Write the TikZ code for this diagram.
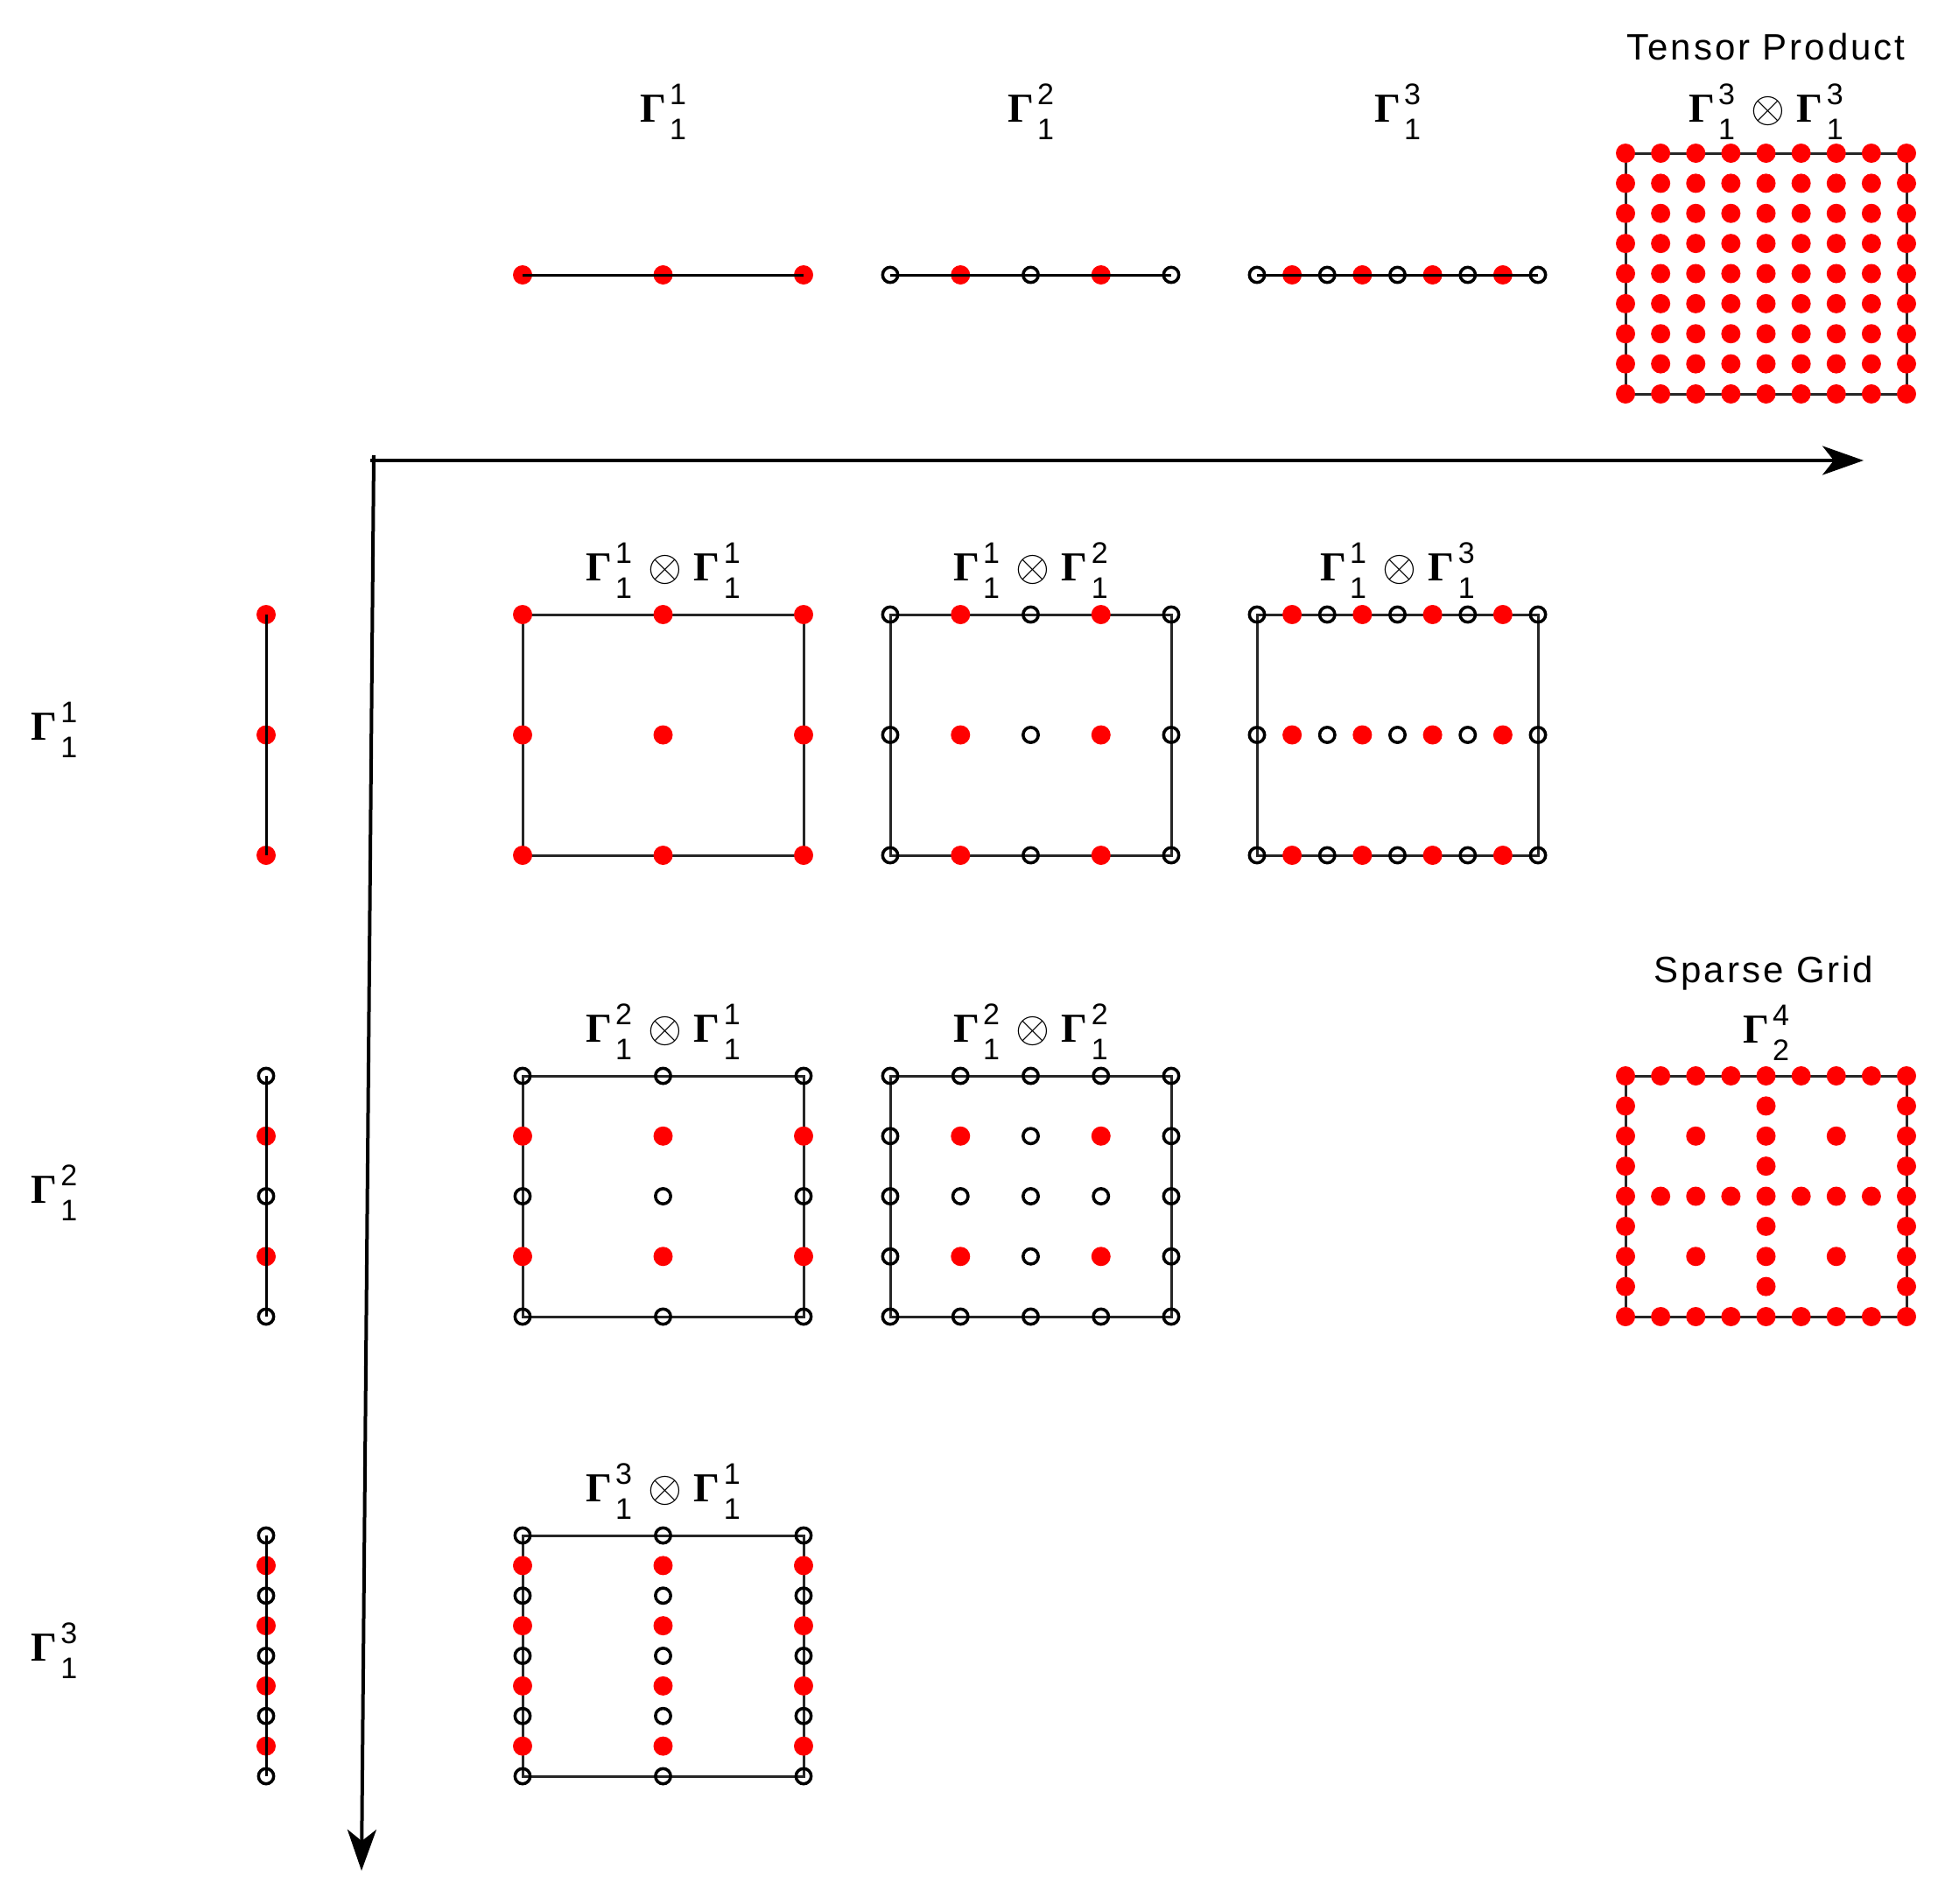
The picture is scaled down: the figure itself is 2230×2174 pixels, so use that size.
\documentclass[tikz,border=0pt]{standalone}
\usepackage{fix-cm}
\usepackage{fontspec}
\setmainfont{Liberation Sans}
\newfontfamily\gamfont{Liberation Serif}
\newfontfamily\widefont{Liberation Sans}[LetterSpace=7]
\usetikzlibrary{arrows.meta}
\newcommand\digs{\fontsize{34}{36}\selectfont}
\newcommand\GG[2]{{\gamfont\bfseries\fontsize{47}{50}\selectfont Γ}\kern4pt\makebox[0pt][l]{\raisebox{20pt}{\digs #2}}\raisebox{-20pt}{\digs #1}}
\newcommand\OT{\kern18pt{\fontsize{50}{56}\selectfont$\otimes$}\kern14pt}
\tikzset{
  boxline/.style={draw=black!85,line width=3pt},
  oneline/.style={draw=black,line width=3pt},
  opendot/.style={draw=black,line width=3.5pt},
  axis/.style={draw=black,line width=4pt,-{Stealth[length=47pt,width=33pt,inset=13pt]}},
  lab/.style={inner sep=0pt,anchor=base},
  title/.style={inner sep=0pt,anchor=base,font=\widefont\fontsize{42}{48}\selectfont}
}
% 2D box with nx, ny points
\newcommand\gridbox[4]{%
  \draw[boxline] (#1,#2) rectangle ++(321,275);
  \foreach \i in {1,...,#3}{\foreach \j in {1,...,#4}{%
    \pgfmathsetmacro\px{#1+321*(\i-1)/(#3-1)}%
    \pgfmathsetmacro\py{#2+275*(\j-1)/(#4-1)}%
    \pgfmathtruncatemacro\isred{and(or(#3==3,mod(\i,2)==0),or(#4==3,mod(\j,2)==0))}%
    \ifnum\isred=1 \fill[red] (\px,\py) circle[radius=11pt];\else\draw[opendot] (\px,\py) circle[radius=8.7pt];\fi
  }}}
% horizontal 1D grid
\newcommand\oneh[3]{%
  \foreach \i in {1,...,#3}{%
    \pgfmathsetmacro\px{#1+321*(\i-1)/(#3-1)}%
    \pgfmathtruncatemacro\isred{or(#3==3,mod(\i,2)==0)}%
    \ifnum\isred=1 \fill[red] (\px,#2) circle[radius=11pt];\else\draw[opendot] (\px,#2) circle[radius=8.7pt];\fi}
  \draw[oneline] (#1,#2) -- ++(321,0);}
% vertical 1D grid
\newcommand\onev[3]{%
  \foreach \j in {1,...,#3}{%
    \pgfmathsetmacro\py{#2+275*(\j-1)/(#3-1)}%
    \pgfmathtruncatemacro\isred{or(#3==3,mod(\j,2)==0)}%
    \ifnum\isred=1 \fill[red] (#1,\py) circle[radius=11pt];\else\draw[opendot] (#1,\py) circle[radius=8.7pt];\fi}
  \draw[oneline] (#1,#2) -- ++(0,275);}
% level-based 9x9 box (#3 = max level sum)
\newcommand\levelbox[3]{%
  \draw[boxline] (#1,#2) rectangle ++(321,275);
  \foreach \i in {1,...,9}{\foreach \j in {1,...,9}{%
    \pgfmathsetmacro\px{#1+321*(\i-1)/8}%
    \pgfmathsetmacro\py{#2+275*(\j-1)/8}%
    \pgfmathtruncatemacro\lx{ifthenelse(mod(\i-1,4)==0,1,ifthenelse(mod(\i-1,2)==0,2,3))}%
    \pgfmathtruncatemacro\ly{ifthenelse(mod(\j-1,4)==0,1,ifthenelse(mod(\j-1,2)==0,2,3))}%
    \pgfmathtruncatemacro\ok{(\lx+\ly)<=#3}%
    \ifnum\ok=1 \fill[red] (\px,\py) circle[radius=11pt];\fi
  }}}
\begin{document}
\begin{tikzpicture}[x=1pt,y=-1pt]
\useasboundingbox (0,0) rectangle (2230,2174);
\fill[white] (0,0) rectangle (2230,2174);
% axes
\coordinate (corner) at (427,520);
\coordinate (hstart) at (423,526);
\coordinate (xend) at (2129,526);
\coordinate (yend) at (413,2137);
\draw[axis] (hstart) -- (xend);
\draw[axis] (corner) -- (yend);
% top 1D grids
\oneh{597}{314}{3}
\oneh{1017}{314}{5}
\oneh{1436}{314}{9}
\node[lab] (top1) at (757.5,139) {\GG{1}{1}};
\node[lab] (top2) at (1177.5,139) {\GG{1}{2}};
\node[lab] (top3) at (1596.5,139) {\GG{1}{3}};
% tensor product
\node[title] (tptitle) at (2017.5,68) {Tensor Product};
\node[lab] (tplab) at (2017.5,139) {\GG{1}{3}\OT\GG{1}{3}};
\levelbox{1857}{175}{6}
% left 1D grids
\onev{304}{702}{3}
\onev{304}{1229}{5}
\onev{304}{1754}{9}
\node[lab] (left1) at (62,845) {\GG{1}{1}};
\node[lab] (left2) at (62,1374) {\GG{1}{2}};
\node[lab] (left3) at (62,1897) {\GG{1}{3}};
% 2D boxes
\gridbox{597}{702}{3}{3}
\gridbox{1017}{702}{5}{3}
\gridbox{1436}{702}{9}{3}
\gridbox{597}{1229}{3}{5}
\gridbox{1017}{1229}{5}{5}
\gridbox{597}{1754}{3}{9}
\node[lab] (b11) at (757.5,663) {\GG{1}{1}\OT\GG{1}{1}};
\node[lab] (b12) at (1177.5,663) {\GG{1}{1}\OT\GG{1}{2}};
\node[lab] (b13) at (1596.5,663) {\GG{1}{1}\OT\GG{1}{3}};
\node[lab] (b21) at (757.5,1190) {\GG{1}{2}\OT\GG{1}{1}};
\node[lab] (b22) at (1177.5,1190) {\GG{1}{2}\OT\GG{1}{2}};
\node[lab] (b31) at (757.5,1715) {\GG{1}{3}\OT\GG{1}{1}};
% sparse grid
\node[title] (sgtitle) at (2015,1122) {Sparse Grid};
\node[lab] (sglab) at (2017.5,1191) {\GG{2}{4}};
\levelbox{1857}{1229}{4}
\end{tikzpicture}
\end{document}
